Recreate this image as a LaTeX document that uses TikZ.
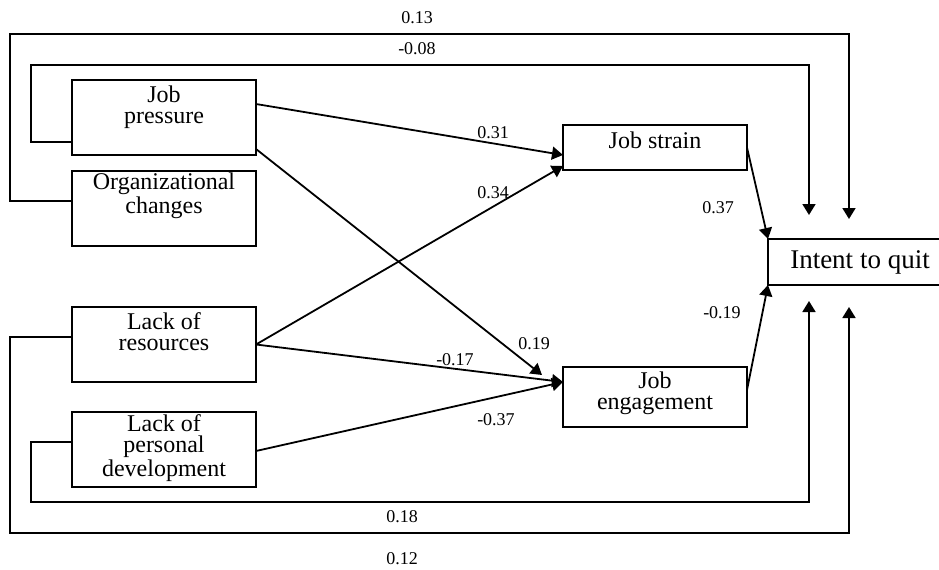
\documentclass[tikz,border=0pt]{standalone}
\usepackage{fontspec}
\setmainfont{Liberation Serif}
\usetikzlibrary{arrows.meta,calc}

\begin{document}
\begin{tikzpicture}[x=0.5pt,y=-0.5pt,
  line width=0.9pt,
  box/.style={draw, rectangle, inner sep=0pt, outer sep=0pt, minimum width=92pt},
  boxtext/.style={anchor=base, align=center, inner sep=0pt,
    font=\fontsize{12}{10.5}\selectfont},
  coef/.style={inner sep=0pt, font=\fontsize{9}{10}\selectfont},
  path/.style={-{Triangle[length=5.5pt,width=6.5pt]}}]

\useasboundingbox (0,0) rectangle (939,569);
\clip (0,0) rectangle (939,569);

% predictor boxes
\node[box, minimum height=37.5pt] (jp)  at (164,117.5) {};
\node[box, minimum height=37.5pt] (oc)  at (164,208.5) {};
\node[box, minimum height=37.5pt] (lr)  at (164,344.5) {};
\node[box, minimum height=37.5pt] (lpd) at (164,449.5) {};

% mediators and outcome
\node[box, minimum height=22.5pt] (js) at (655,147.5) {};
\node[box, minimum height=30pt]   (je) at (655,397) {};
\node[box, minimum height=23pt, font=\fontsize{13.5}{15}\selectfont] (iq) at (860,262) {Intent to quit};

% box captions, placed by the baseline of their last line
\node[boxtext] (tjp)  at ($(jp.north)+(0,43)$)  {Job\\pressure};
\node[boxtext] (toc)  at ($(oc.north)+(0,42)$)  {Organizational\\changes};
\node[boxtext] (tlr)  at ($(lr.north)+(0,43)$)  {Lack of\\resources};
\node[boxtext] (tlpd) at ($(lpd.north)+(0,64)$) {Lack of\\personal\\development};
\node[boxtext] (tjs)  at ($(js.north)+(0,23)$)  {Job strain};
\node[boxtext] (tje)  at ($(je.north)+(0,42)$)  {Job\\engagement};

% free ends of the direct paths to intent to quit
\coordinate (topin)  at (809,215);
\coordinate (topout) at (849,219);
\coordinate (botin)  at (809,301);
\coordinate (botout) at (849,307);
\coordinate (jpje)   at ($(je.north west)+(-21,8)$);

% direct paths routed around the diagram
\draw[path] (oc.west |- 0,201) -- (10,201) -- (10,34) -- (849,34) -- (topout);
\draw[path] (jp.west |- 0,142) -- (31,142) -- (31,65) -- (809,65) -- (topin);
\draw[path] (lpd.west |- 0,442) -- (31,442) -- (31,502) -- (809,502) -- (botin);
\draw[path] (lr.west |- 0,337) -- (10,337) -- (10,533) -- (849,533) -- (botout);

% paths to the mediators
\draw[path] ($(jp.north east)+(0,24)$) -- ($(js.north west)+(0,30)$);
\draw[path] ($(jp.north east)+(0,69)$) -- (jpje);
\draw[path] (lr.east) -- ($(js.north west)+(0,41)$);
\draw[path] (lr.east) -- ($(je.north west)+(0,15)$);
\draw[path] ($(lpd.north east)+(0,39)$) -- ($(je.north west)+(0,15)$);

% mediators to intent to quit
\draw[path] (js.east) -- (iq.north west);
\draw[path] ($(je.east)+(0,-7)$) -- (iq.south west);

% coefficients
\node[coef] (c13)  at (417,18)  {0.13};
\node[coef] (c08)  at (417,49)  {-0.08};
\node[coef] (c31)  at (493,133) {0.31};
\node[coef] (c34)  at (493,193) {0.34};
\node[coef] (c37)  at (718,208) {0.37};
\node[coef] (c19n) at (722,313) {-0.19};
\node[coef] (c19)  at (534,344) {0.19};
\node[coef] (c17)  at (455,360) {-0.17};
\node[coef] (c37n) at (496,420) {-0.37};
\node[coef] (c18)  at (402,517) {0.18};
\node[coef] (c12)  at (402,559) {0.12};
\end{tikzpicture}
\end{document}
